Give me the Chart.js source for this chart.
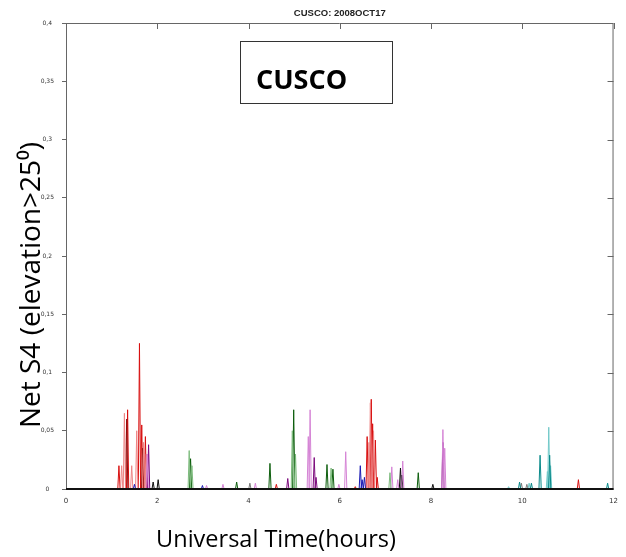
<!DOCTYPE html>
<html>
<head>
<meta charset="utf-8">
<script src="https://cdn.jsdelivr.net/npm/chart.js@4.4.1/dist/chart.umd.min.js"></script>
<style>
    html, body { margin: 0; padding: 0; background: #ffffff; }
</style>
</head>
<body>
<canvas id="graficaS4" width="626" height="557"></canvas>
<script>
// Axis ticks:
const xTicks = [0, 2, 4, 6, 8, 10, 12];
const yTicks = [0, 0.05, 0.1, 0.15, 0.2, 0.25, 0.3, 0.35, 0.4];
const yTickLabels = ["0", "0,05", "0,1", "0,15", "0,2", "0,25", "0,3", "0,35", "0,4"];

// S4 spikes per satellite trace (UT hours, S4 value):
const redTimes = [1.16, 1.35, 1.61, 1.66, 1.74, 4.61, 6.34, 6.60, 6.69, 6.72, 6.78, 6.82, 11.23];
const redS4 = [0.020, 0.068, 0.125, 0.055, 0.045, 0.004, 0.002, 0.045, 0.077, 0.056, 0.042, 0.010, 0.008];

const salmonTimes = [1.22, 1.28, 1.44, 1.55, 1.70, 1.76, 6.64, 6.67, 6.74];
const salmonS4 = [0.020, 0.065, 0.020, 0.050, 0.040, 0.030, 0.040, 0.074, 0.050];

const darkRedTimes = [1.33, 1.68];
const darkRedS4 = [0.060, 0.035];

const purpleTimes = [1.81, 4.86, 5.44, 5.48, 8.26];
const purpleS4 = [0.038, 0.009, 0.027, 0.010, 0.040];

const orchidTimes = [1.78, 3.08, 3.44, 4.15, 5.31, 5.35, 5.98, 6.13, 7.14, 7.27, 7.38, 8.26, 8.30];
const orchidS4 = [0.030, 0.003, 0.004, 0.005, 0.045, 0.068, 0.004, 0.032, 0.019, 0.008, 0.024, 0.051, 0.035];

const darkGreenTimes = [2.73, 3.74, 4.47, 4.99, 5.72, 5.85, 7.72];
const darkGreenS4 = [0.026, 0.006, 0.022, 0.068, 0.021, 0.017, 0.014];

const lightGreenTimes = [2.70, 2.76, 4.96, 5.03, 5.81, 7.10];
const lightGreenS4 = [0.033, 0.020, 0.050, 0.030, 0.018, 0.014];

const blackTimes = [1.91, 2.02, 7.33, 7.36, 8.04];
const blackS4 = [0.006, 0.008, 0.018, 0.012, 0.004];

const grayTimes = [4.03, 9.98, 10.10];
const grayS4 = [0.005, 0.005, 0.004];

const blueTimes = [1.50, 2.99, 6.45, 6.49, 6.54];
const blueS4 = [0.004, 0.003, 0.020, 0.008, 0.010];

const cyanTimes = [9.70, 10.15, 10.55, 10.58, 10.62];
const cyanS4 = [0.002, 0.005, 0.015, 0.053, 0.020];

const tealTimes = [9.94, 10.20, 10.39, 10.60, 11.87];
const tealS4 = [0.006, 0.005, 0.029, 0.029, 0.005];

// Half width of each spike (hours):
const halfWidth = 0.025;

// Build line points for one trace, every spike rises from zero and falls back:
function spikeTrace(times, values)
{
    const pts = [];
    for (let i = 0; i < times.length; i++)
    {
        pts.push({x: times[i] - halfWidth, y: 0});
        pts.push({x: times[i], y: values[i]});
        pts.push({x: times[i] + halfWidth, y: 0});
    }
    return pts;
}

function trace(times, values, color)
{
    return {
        data: spikeTrace(times, values),
        borderColor: color,
        borderWidth: 1,
        pointRadius: 0,
        tension: 0,
        fill: false
    };
}

// Frame, top/right ticks, titles and station box:
const framePlugin = {
    id: "frame",
    afterDraw(chart)
    {
        const ctx = chart.ctx;
        const a = chart.chartArea;
        const sx = chart.scales.x;
        const sy = chart.scales.y;

        ctx.save();
        ctx.strokeStyle = "#666666";
        ctx.lineWidth = 1;
        ctx.beginPath();
        ctx.moveTo(a.left, a.top + 0.5);
        ctx.lineTo(a.right - 0.5, a.top + 0.5);
        ctx.lineTo(a.right - 0.5, a.bottom);
        ctx.stroke();

        // inward ticks on top and right
        ctx.beginPath();
        xTicks.forEach(function (v) {
            const px = Math.round(sx.getPixelForValue(v)) + 0.5;
            ctx.moveTo(px, a.top);
            ctx.lineTo(px, a.top + 6);
        });
        yTicks.forEach(function (v) {
            const py = Math.round(sy.getPixelForValue(v)) + 0.5;
            ctx.moveTo(a.right, py);
            ctx.lineTo(a.right - 6, py);
        });
        ctx.stroke();

        // bottom axis
        ctx.strokeStyle = "#111111";
        ctx.lineWidth = 2;
        ctx.beginPath();
        ctx.moveTo(a.left, a.bottom);
        ctx.lineTo(a.right, a.bottom);
        ctx.stroke();

        // title
        ctx.fillStyle = "#222222";
        ctx.textAlign = "center";
        ctx.textBaseline = "middle";
        ctx.font = "bold 9.5px 'Liberation Sans'";
        ctx.fillText("CUSCO: 2008OCT17", (a.left + a.right) / 2, 13);

        // station box
        ctx.strokeStyle = "#333333";
        ctx.lineWidth = 1;
        ctx.strokeRect(240.5, 41.5, 152, 62);
        ctx.fillStyle = "#000000";
        ctx.textAlign = "left";
        ctx.textBaseline = "alphabetic";
        ctx.font = "bold 27px 'Open Sans'";
        ctx.fillText("CUSCO", 256, 89);

        // axis titles
        ctx.textBaseline = "middle";
        ctx.font = "23.5px 'Open Sans'";
        ctx.textAlign = "center";
        ctx.fillText("Universal Time(hours)", 276, 540);

        ctx.font = "28px 'Open Sans'";
        ctx.translate(32, 285);
        ctx.rotate(-Math.PI / 2);
        ctx.fillText("Net S4 (elevation>25\u2070)", 0, 0);
        ctx.restore();
    }
};

const datasets = [
    trace(tealTimes, tealS4, "#0a8a8a"),
    trace(cyanTimes, cyanS4, "#72c9c9"),
    trace(grayTimes, grayS4, "#7a7a7a"),
    trace(blueTimes, blueS4, "#1a1ab4"),
    trace(lightGreenTimes, lightGreenS4, "#7dbb7d"),
    trace(darkGreenTimes, darkGreenS4, "#0d5e0d"),
    trace(orchidTimes, orchidS4, "#d584d5"),
    trace(purpleTimes, purpleS4, "#7c0a7c"),
    trace(blackTimes, blackS4, "#111111"),
    trace(salmonTimes, salmonS4, "#ee8585"),
    trace(darkRedTimes, darkRedS4, "#8c1010"),
    trace(redTimes, redS4, "#d81010")
];

const ctx = document.getElementById("graficaS4").getContext("2d");
const chartS4 = new Chart(ctx,
{
    type: "line",
    data: { datasets: datasets },
    options: {
        responsive: false,
        devicePixelRatio: 1,
        animation: false,
        layout: { padding: { left: 0, right: 1, top: 23, bottom: 0 } },
        plugins: {
            legend: { display: false },
            title: { display: false },
            tooltip: { enabled: false }
        },
        scales: {
            x: {
                type: "linear",
                min: 0,
                max: 12,
                afterBuildTicks: function (scale) {
                    scale.ticks = xTicks.map(function (v) { return {value: v}; });
                },
                afterFit: function (scale) { scale.height = 68; },
                grid: { display: false, drawTicks: false },
                border: { display: false },
                ticks: {
                    padding: 8,
                    color: "#333333",
                    font: { family: "DejaVu Sans", size: 7 },
                    maxRotation: 0,
                    callback: function (v) { return String(v); }
                }
            },
            y: {
                type: "linear",
                min: 0,
                max: 0.4,
                afterBuildTicks: function (scale) {
                    scale.ticks = yTicks.map(function (v) { return {value: v}; });
                },
                afterFit: function (scale) { scale.width = 66; },
                grid: { drawOnChartArea: false, drawTicks: true, tickLength: 4, color: "#666666" },
                border: { display: true, color: "#666666", width: 1 },
                ticks: {
                    padding: 8,
                    crossAlign: "center",
                    color: "#333333",
                    font: { family: "DejaVu Sans", size: 6 },
                    callback: function (v, i) { return yTickLabels[i]; }
                }
            }
        }
    },
    plugins: [framePlugin]
});
</script>
</body>
</html>
